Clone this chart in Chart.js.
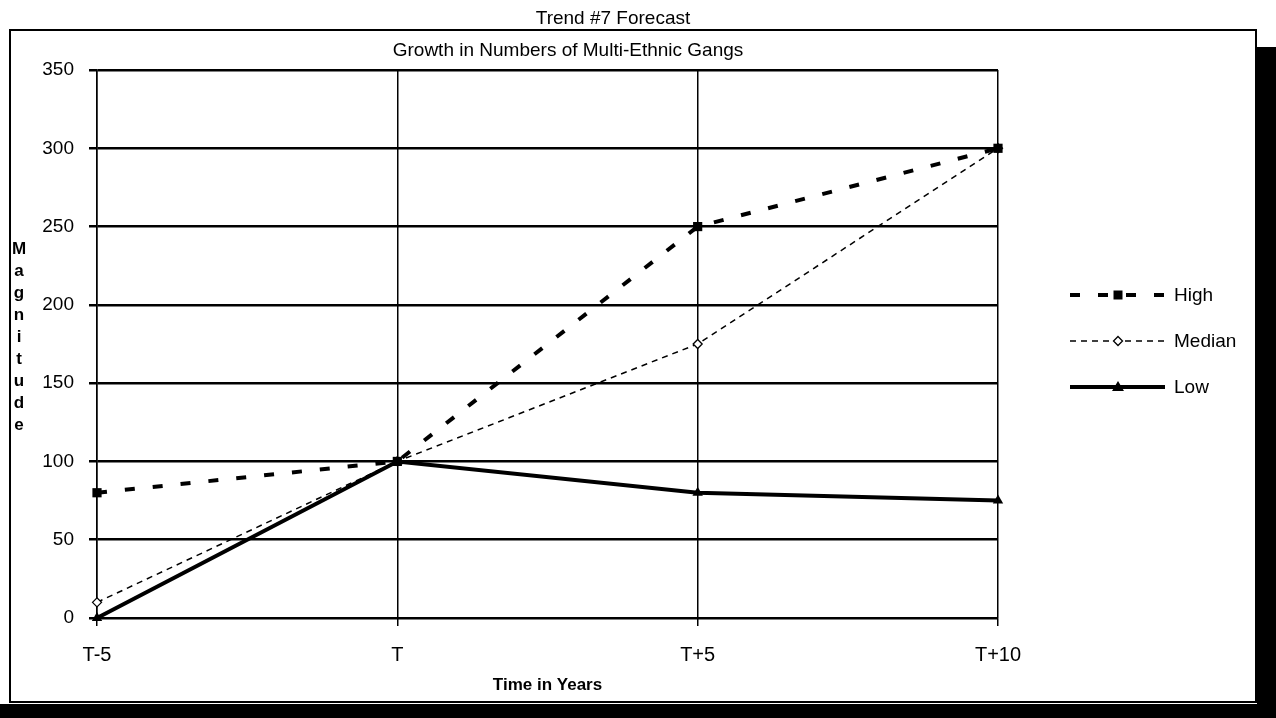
<!DOCTYPE html>
<html>
<head>
<meta charset="utf-8">
<title>Trend #7 Forecast</title>
<script src="https://cdn.jsdelivr.net/npm/chart.js@4/dist/chart.umd.min.js"></script>
<style>
    html, body { margin: 0; padding: 0; background: #fff; }
    #wrap { width: 1276px; height: 718px; position: relative; }
</style>
</head>
<body>
<div id="wrap"><canvas id="trendChart" width="1276" height="718"></canvas></div>
<script>
// Data
const periods = ["T-5", "T", "T+5", "T+10"];
const highValues = [80, 100, 250, 300];
const medianValues = [10, 100, 175, 300];
const lowValues = [0, 100, 80, 75];
const yTicks = [0, 50, 100, 150, 200, 250, 300, 350];

const FONT = '"Liberation Sans", Arial, Helvetica, sans-serif';
Chart.defaults.font.family = FONT;
Chart.defaults.font.size = 19;
Chart.defaults.color = "#000";

// legend samples: [label, dash, width, marker]
const legendRows = [
    ["High", [10, 18], 4, "square"],
    ["Median", [6, 5], 1.5, "diamond"],
    ["Low", [], 4, "triangle"]
];

function drawMarker(ctx, kind, x, y) {
    ctx.save();
    ctx.setLineDash([]);
    ctx.lineWidth = 1.3;
    ctx.strokeStyle = "#000";
    ctx.fillStyle = "#000";
    ctx.beginPath();
    if (kind === "square") {
        ctx.rect(x - 4.5, y - 4.5, 9, 9);
        ctx.fill();
    } else if (kind === "diamond") {
        ctx.moveTo(x, y - 4.5); ctx.lineTo(x + 4.5, y); ctx.lineTo(x, y + 4.5); ctx.lineTo(x - 4.5, y); ctx.closePath();
        ctx.fillStyle = "#fff";
        ctx.fill();
        ctx.stroke();
    } else {
        ctx.moveTo(x, y - 6); ctx.lineTo(x + 6, y + 4); ctx.lineTo(x - 6, y + 4); ctx.closePath();
        ctx.fill();
    }
    ctx.restore();
}

// Frame, titles, vertical axis letters and the legend
const decor = {
    id: "decor",
    beforeDraw(chart) {
        const ctx = chart.ctx;
        ctx.save();
        ctx.fillStyle = "#fff";
        ctx.fillRect(0, 0, chart.width, chart.height);
        ctx.restore();
    },
    afterDraw(chart) {
        const ctx = chart.ctx;
        ctx.save();
        // outer frame
        ctx.strokeStyle = "#000";
        ctx.lineWidth = 2;
        ctx.strokeRect(10, 30, 1246, 672);
        // scan edges
        ctx.fillStyle = "#000";
        ctx.fillRect(0, 704, 1276, 14);
        ctx.fillRect(1257, 47, 19, 671);

        ctx.fillStyle = "#000";
        ctx.textAlign = "center";
        ctx.textBaseline = "middle";
        ctx.font = "19px " + FONT;
        ctx.fillText("Trend #7 Forecast", 613, 19);
        ctx.fillText("Growth in Numbers of Multi-Ethnic Gangs", 568, 51);

        ctx.font = "bold 17px " + FONT;
        "Magnitude".split("").forEach((ch, i) => ctx.fillText(ch, 19, 249 + i * 22));

        // legend
        legendRows.forEach((row, i) => {
            const y = 295 + i * 46;
            ctx.save();
            ctx.strokeStyle = "#000";
            ctx.lineWidth = row[2];
            ctx.setLineDash(row[1]);
            ctx.beginPath();
            ctx.moveTo(1070, y);
            ctx.lineTo(1165, y);
            ctx.stroke();
            ctx.restore();
            drawMarker(ctx, row[3], 1118, y);
            ctx.font = "19px " + FONT;
            ctx.textAlign = "left";
            ctx.fillText(row[0], 1174, y + 1);
        });
        ctx.restore();
    }
};

new Chart(document.getElementById("trendChart"), {
    type: "line",
    data: {
        labels: periods,
        datasets: [
            {
                label: "High", data: highValues,
                borderColor: "#000", borderWidth: 4, borderDash: [10, 18],
                pointStyle: "rect", pointRadius: 6.5,
                pointBackgroundColor: "#000", pointBorderColor: "#000", pointBorderWidth: 0
            },
            {
                label: "Median", data: medianValues,
                borderColor: "#000", borderWidth: 1.5, borderDash: [6, 5],
                pointStyle: "rectRot", pointRadius: 4.5,
                pointBackgroundColor: "#fff", pointBorderColor: "#000", pointBorderWidth: 1.3
            },
            {
                label: "Low", data: lowValues,
                borderColor: "#000", borderWidth: 4,
                pointStyle: "triangle", pointRadius: 6,
                pointBackgroundColor: "#000", pointBorderColor: "#000", pointBorderWidth: 0
            }
        ]
    },
    options: {
        responsive: false,
        animation: false,
        clip: false,
        elements: { line: { tension: 0, fill: false } },
        layout: { padding: { left: 0, right: 278, top: 70, bottom: 22 } },
        plugins: { legend: { display: false }, title: { display: false }, tooltip: { enabled: false } },
        scales: {
            x: {
                offset: false,
                afterFit: s => { s.height = 78; },
                grid: { color: "#000", lineWidth: 1.5, tickLength: 8, drawTicks: true },
                border: { color: "#000", width: 1.5 },
                ticks: { padding: 17, maxRotation: 0, font: { size: 20 } },
                title: { display: true, text: "Time in Years", font: { size: 17, weight: "bold" }, padding: { top: 0, bottom: 0 } }
            },
            y: {
                min: 0, max: 350,
                afterFit: s => { s.width = 97; },
                afterBuildTicks: s => { s.ticks = yTicks.map(v => ({ value: v })); },
                grid: { color: "#000", lineWidth: 2.5, tickLength: 8 },
                border: { color: "#000", width: 1.5 },
                ticks: { padding: 15, font: { size: 19 } }
            }
        }
    },
    plugins: [decor]
});
</script>
</body>
</html>
